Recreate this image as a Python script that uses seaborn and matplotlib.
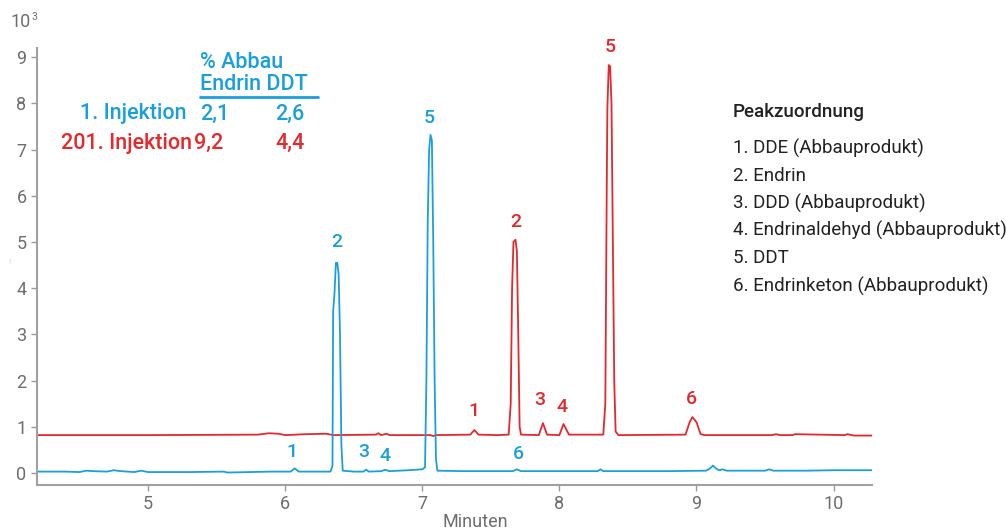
import pandas as pd
import matplotlib
matplotlib.use("Agg")
import matplotlib.pyplot as plt
import seaborn as sns

# chromatogram traces (minutes, signal x 10^3)
blue_t = [4.19, 4.40, 4.50, 4.55, 4.60, 4.70, 4.75, 4.80, 4.90, 4.95, 5.00, 5.30, 5.55, 5.58,
          5.90, 6.04, 6.07, 6.10, 6.20, 6.33, 6.345, 6.35, 6.36, 6.37, 6.38, 6.39, 6.40, 6.41,
          6.42, 6.50, 6.57, 6.59, 6.61, 6.70, 6.73, 6.76, 6.90, 7.00, 7.02, 7.03, 7.04, 7.05,
          7.06, 7.07, 7.08, 7.09, 7.10, 7.11, 7.30, 7.60, 7.66, 7.69, 7.72, 8.00, 8.28, 8.30,
          8.32, 8.80, 9.07, 9.10, 9.12, 9.15, 9.17, 9.19, 9.22, 9.50, 9.53, 9.56, 9.80, 10.0,
          10.28]
blue_y = [0.03, 0.03, 0.02, 0.05, 0.04, 0.03, 0.06, 0.04, 0.02, 0.05, 0.02, 0.02, 0.03, 0.01,
          0.03, 0.03, 0.10, 0.03, 0.03, 0.03, 0.15, 3.50, 3.90, 4.55, 4.55, 4.30, 3.00, 0.60,
          0.05, 0.03, 0.03, 0.07, 0.03, 0.04, 0.07, 0.04, 0.06, 0.08, 0.12, 2.00, 5.50, 7.00,
          7.32, 7.20, 5.00, 2.00, 0.30, 0.05, 0.04, 0.04, 0.04, 0.08, 0.04, 0.04, 0.04, 0.08,
          0.04, 0.04, 0.05, 0.10, 0.16, 0.08, 0.06, 0.08, 0.05, 0.05, 0.08, 0.05, 0.05, 0.06,
          0.06]

red_t = [4.19, 5.00, 5.80, 5.88, 5.95, 6.00, 6.15, 6.30, 6.35, 6.66, 6.68, 6.70, 6.74, 6.76,
         7.06, 7.08, 7.10, 7.35, 7.38, 7.41, 7.55, 7.63, 7.645, 7.655, 7.665, 7.68, 7.69, 7.70,
         7.71, 7.72, 7.85, 7.88, 7.91, 8.00, 8.03, 8.07, 8.32, 8.335, 8.345, 8.35, 8.36, 8.37,
         8.38, 8.39, 8.40, 8.41, 8.43, 8.92, 8.95, 8.97, 9.00, 9.03, 9.06, 9.55, 9.58, 9.61,
         9.70, 9.72, 10.08, 10.10, 10.15, 10.28]
red_y = [0.82, 0.82, 0.83, 0.86, 0.85, 0.82, 0.84, 0.85, 0.82, 0.83, 0.86, 0.82, 0.85, 0.82,
         0.82, 0.80, 0.82, 0.83, 0.93, 0.83, 0.82, 0.83, 1.50, 4.00, 5.00, 5.05, 4.80, 3.00,
         1.00, 0.83, 0.82, 1.08, 0.83, 0.82, 1.06, 0.83, 0.83, 1.50, 6.00, 7.90, 8.83, 8.80,
         8.00, 5.00, 2.00, 0.90, 0.82, 0.83, 1.10, 1.21, 1.10, 0.84, 0.82, 0.82, 0.84, 0.82,
         0.82, 0.84, 0.82, 0.84, 0.81, 0.81]

# peak numbers (label, time, height of the label)
blue_labels = ["1", "2", "3", "4", "5", "6"]
blue_label_t = [6.05, 6.38, 6.57, 6.73, 7.05, 7.70]
blue_label_y = [0.45, 5.00, 0.45, 0.37, 7.68, 0.41]
red_labels = ["1", "2", "3", "4", "5", "6"]
red_label_t = [7.375, 7.68, 7.86, 8.02, 8.37, 8.96]
red_label_y = [1.34, 5.43, 1.58, 1.43, 9.22, 1.60]

peak_names = ["1. DDE (Abbauprodukt)", "2. Endrin", "3. DDD (Abbauprodukt)",
              "4. Endrinaldehyd (Abbauprodukt)", "5. DDT", "6. Endrinketon (Abbauprodukt)"]

BLUE = "#1a9fdd"
RED = "#e4282c"
GREY = "#6e6e6e"

sns.set_style("ticks")
plt.rcParams["font.family"] = ["Roboto", "DejaVu Sans"]

fig = plt.figure(figsize=(10.06, 5.32), dpi=100)
ax = fig.add_axes([37 / 1006, 1 - 485 / 532, (872 - 37) / 1006, (485 - 48) / 532])

df_blue = pd.DataFrame({"t": blue_t, "y": blue_y})
df_red = pd.DataFrame({"t": red_t, "y": red_y})
sns.lineplot(data=df_red, x="t", y="y", ax=ax, color=RED, lw=1.3, sort=False)
sns.lineplot(data=df_blue, x="t", y="y", ax=ax, color=BLUE, lw=1.3, sort=False)

for lab, t, y in zip(blue_labels, blue_label_t, blue_label_y):
    ax.text(t, y, lab, color=BLUE, fontsize=14, fontweight="medium", ha="center", va="center")
for lab, t, y in zip(red_labels, red_label_t, red_label_y):
    ax.text(t, y, lab, color=RED, fontsize=14, fontweight="medium", ha="center", va="center")

ax.set_xlim(4.19, 10.28)
ax.set_ylim(-0.26, 9.2)
ax.set_xticks([5, 6, 7, 8, 9, 10])
ax.set_yticks(range(10))
ax.set_xlabel("Minuten", color=GREY, fontsize=13)
ax.xaxis.set_label_coords((475 - 37) / 835, -0.063)
ax.set_ylabel("")
ax.tick_params(colors="#999999", labelcolor=GREY, labelsize=13, length=4, width=1)
for side in ["top", "right"]:
    ax.spines[side].set_visible(False)
for side in ["left", "bottom"]:
    ax.spines[side].set_color("#a0a0a0")
    ax.spines[side].set_linewidth(1.5)

# 10^3 scale note and the faint axis mark
fig.text(10 / 1006, 1 - 22 / 532, "10", color=GREY, fontsize=13, va="center")
fig.text(32 / 1006, 1 - 17 / 532, "3", color=GREY, fontsize=7.5, va="center")
fig.text(8 / 1006, 1 - 262 / 532, "!", color="#cccccc", fontsize=6, va="center")


def fx(px):
    return px / 1006


def fy(py):
    return 1 - py / 532


# degradation table
TS = 15.5
fig.text(fx(200), fy(62), "% Abbau", color=BLUE, fontsize=TS, fontweight="medium", va="center")
fig.text(fx(200), fy(84), "Endrin DDT", color=BLUE, fontsize=TS, fontweight="medium", va="center")
fig.add_artist(plt.Line2D([fx(200), fx(318)], [fy(97), fy(97)], color=BLUE, lw=2))
fig.text(fx(187), fy(114), "1. Injektion", color=BLUE, fontsize=TS, fontweight="medium",
         ha="right", va="center")
fig.text(fx(200), fy(114), "2,1", color=BLUE, fontsize=TS, fontweight="medium", va="center")
fig.text(fx(275), fy(114), "2,6", color=BLUE, fontsize=TS, fontweight="medium", va="center")
fig.text(fx(192), fy(143), "201. Injektion", color=RED, fontsize=TS, fontweight="medium",
         ha="right", va="center")
fig.text(fx(194), fy(143), "9,2", color=RED, fontsize=TS, fontweight="medium", va="center")
fig.text(fx(275), fy(143), "4,4", color=RED, fontsize=TS, fontweight="medium", va="center")

# peak assignment list
fig.text(fx(733), fy(112), "Peakzuordnung", color="#222222", fontsize=13.5, fontweight="medium",
         va="center")
for i, name in enumerate(peak_names):
    fig.text(fx(733), fy(148 + i * 27.6), name, color="#222222", fontsize=13.5, va="center")

fig.savefig("out.png", dpi=100)
